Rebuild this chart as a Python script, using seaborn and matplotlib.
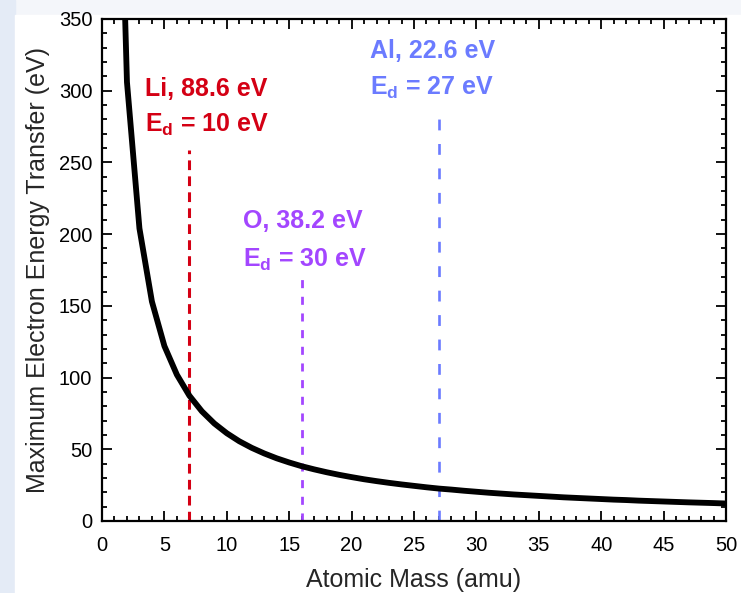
import numpy as np
import pandas as pd
import matplotlib
matplotlib.use("Agg")
import matplotlib.pyplot as plt
import matplotlib.patches as mpatches
import seaborn as sns
from matplotlib.ticker import MultipleLocator

# curve (eV at each integer atomic mass)
mass = list(range(1, 51))
e_max = [612, 306, 204, 153, 122, 102, 87.4, 76.5, 68, 61.2,
         55.6, 51, 47.1, 43.7, 40.8, 38.2, 36, 34, 32.2, 30.6,
         29.1, 27.8, 26.6, 25.5, 24.5, 23.5, 22.6, 21.9, 21.1, 20.4,
         19.7, 19.1, 18.5, 18, 17.5, 17, 16.5, 16.1, 15.7, 15.3,
         14.9, 14.6, 14.2, 13.9, 13.6, 13.3, 13, 12.75, 12.5, 12.2]

# marked elements
elements = ["Li", "O", "Al"]
el_mass = [6.94, 16.0, 26.98]
el_transfer = ["88.6", "38.2", "22.6"]
el_ed = ["10", "30", "27"]
line_top = [259, 173, 287]
el_colors = ["#d40014", "#a346ff", "#6b7bff"]
el_dashes = [(7.0, 4.5), (5.8, 6.2), (7.8, 9.8)]
el_lw = [2.2, 2.0, 1.9]
# label anchors (left x, baseline of first line, baseline of second line)
label_x = [3.45, 11.3, 21.47]
label_y1 = [296, 204.5, 323]
label_y2 = [271.5, 177.5, 297]

sns.set_theme(style="ticks")
plt.rcParams['font.family'] = ['Liberation Sans', 'DejaVu Sans']
plt.rcParams['mathtext.fontset'] = 'custom'
plt.rcParams['mathtext.rm'] = 'Liberation Sans:bold'
plt.rcParams['mathtext.bf'] = 'Liberation Sans:bold'
plt.rcParams['lines.scale_dashes'] = False

fig = plt.figure(figsize=(7.41, 5.93), dpi=100, facecolor='#f4f6fa')
# slide-like backdrop: pale left strip and white panel
fig.patches.append(mpatches.Rectangle((0, 0), 15 / 741, 1, transform=fig.transFigure,
                                      color='#e4ebf6', zorder=-2))
fig.patches.append(mpatches.Rectangle((15 / 741, 0), 1, 1 - 15 / 593, transform=fig.transFigure,
                                      color='white', zorder=-1))

ax = fig.add_axes([102 / 741, 1 - 521 / 593, 624 / 741, 502 / 593])
ax.set_facecolor('white')

df = pd.DataFrame({'mass': mass, 'e_max': e_max})
sns.lineplot(data=df, x='mass', y='e_max', color='black', linewidth=4.2, ax=ax,
             solid_joinstyle='round', zorder=3)

for i in range(len(elements)):
    ax.plot([el_mass[i], el_mass[i]], [0, line_top[i]], color=el_colors[i],
            linewidth=el_lw[i], linestyle=(0, el_dashes[i]), zorder=2)
    ax.text(label_x[i], label_y1[i], f"{elements[i]}, {el_transfer[i]} eV",
            color=el_colors[i], fontsize=18, fontweight='bold', va='baseline', ha='left')
    ax.text(label_x[i], label_y2[i], r"E$_{\mathrm{d}}$" + f" = {el_ed[i]} eV",
            color=el_colors[i], fontsize=18, fontweight='bold', va='baseline', ha='left')

ax.set_xlim(0, 50)
ax.set_ylim(0, 350)
ax.xaxis.set_major_locator(MultipleLocator(5))
ax.xaxis.set_minor_locator(MultipleLocator(1))
ax.yaxis.set_major_locator(MultipleLocator(50))
ax.yaxis.set_minor_locator(MultipleLocator(10))
ax.tick_params(which='both', direction='in', top=True, right=True, width=1.3,
               colors='black', labelsize=14.5)
ax.tick_params(axis='x', pad=11)
ax.tick_params(axis='y', pad=7)
ax.tick_params(which='major', length=7)
ax.tick_params(which='minor', length=3.5)
for s in ax.spines.values():
    s.set_linewidth(1.6)
    s.set_color('black')

ax.set_xlabel('Atomic Mass (amu)', fontsize=18, labelpad=9)
ax.set_ylabel('Maximum Electron Energy Transfer (eV)', fontsize=18, labelpad=6)

plt.savefig('out.png', dpi=100, facecolor=fig.get_facecolor())
